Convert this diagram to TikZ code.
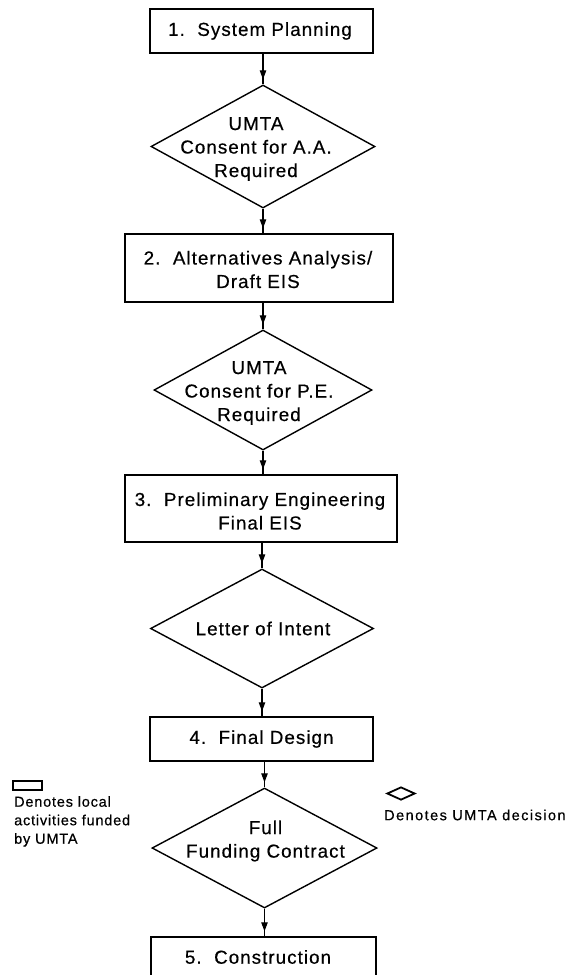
\documentclass[tikz,border=0pt]{standalone}
\usepackage{fontspec}
\setmainfont{Liberation Sans}[LetterSpace=5.5,FakeBold=0.5]
\newfontfamily\widefont{Liberation Sans}[LetterSpace=10,FakeBold=0.5]
\usetikzlibrary{shapes.geometric,arrows.meta,decorations.markings}
\tikzset{
  stepbox/.style={draw, rectangle, line width=1.5pt, inner sep=0pt},
  decide/.style={draw, diamond, line width=1.4pt, inner sep=0pt},
  lbl/.style={font=\fontsize{18.8}{23.5}\selectfont, align=center, inner sep=0pt},
  small/.style={font=\fontsize{14.5}{18.5}\selectfont, align=left, inner sep=0pt},
  flow/.style={line width=1.5pt, postaction={decorate},
    decoration={markings, mark=at position -5pt with {\arrow[line width=1pt]{Triangle[length=9pt,width=6.5pt]}}}}
}
\begin{document}
\begin{tikzpicture}[x=1pt,y=-1pt]
\useasboundingbox (0,0) rectangle (570,975);
\clip (0,0) rectangle (570,975);
% boxes
\node[stepbox, minimum width=223pt, minimum height=44pt] (b1) at (261.5,31) {};
\node[stepbox, minimum width=268pt, minimum height=68pt] (b2) at (259,268) {};
\node[stepbox, minimum width=272pt, minimum height=67pt] (b3) at (261,508.5) {};
\node[stepbox, minimum width=223pt, minimum height=44pt] (b4) at (261.5,739) {};
\node[stepbox, minimum width=225pt, minimum height=50pt] (b5) at (263.5,962) {};
% diamonds
\node[decide, minimum width=224pt, minimum height=123pt] (d1) at (263,146.5) {};
\node[decide, minimum width=218pt, minimum height=120pt] (d2) at (263,390) {};
\node[decide, minimum width=223pt, minimum height=119pt] (d3) at (262,628.5) {};
\node[decide, minimum width=225pt, minimum height=120pt] (d4) at (264.5,848) {};
% texts
\node[lbl] (t1) at (260,31) {1.\ \ System Planning};
\node[lbl] (t2) at (256,149) {UMTA\\Consent for A.A.\\Required};
\node[lbl] (t3) at (258,269.5) {2.\ \ Alternatives Analysis/\\Draft EIS};
\node[lbl] (t4) at (259,393) {UMTA\\Consent for P.E.\\Required};
\node[lbl] (t5) at (260,511) {3.\ \ Preliminary Engineering\\Final EIS};
\node[lbl] (t6) at (263,628.5) {Letter of Intent};
\node[lbl] (t7) at (261.5,739) {4.\ \ Final Design};
\node[lbl] (t8) at (265.5,841) {Full\\Funding Contract};
\node[lbl] (t9) at (258,957) {5.\ \ Construction};
% connectors
\draw[flow] (b1.south -| d1.north) -- (d1.north);
\draw[flow] (d1.south) -- (d1.south |- b2.north);
\draw[flow] (b2.south -| d2.north) -- (d2.north);
\draw[flow] (d2.south) -- (d2.south |- b3.north);
\draw[flow] (b3.south -| d3.north) -- (d3.north);
\draw[flow] (d3.south) -- (d3.south |- b4.north);
\draw[flow] (b4.south -| d4.north) -- (d4.north);
\draw[flow] (d4.south) -- (d4.south |- b5.north);
% legend
\node[draw, rectangle, line width=1.5pt, minimum width=29pt, minimum height=9pt, inner sep=0pt] (lr) at (27.5,785.5) {};
\node[small, anchor=north west] (lrt) at (14,796) {Denotes local\\activities funded\\by UMTA};
\node[draw, diamond, line width=1.8pt, minimum width=28pt, minimum height=13pt, inner sep=0pt] (ld) at (401,793.5) {};
\node[small, font=\widefont\fontsize{14.5}{18.5}\selectfont, anchor=west] (ldt) at (384,815) {Denotes UMTA decision};
\end{tikzpicture}
\end{document}
